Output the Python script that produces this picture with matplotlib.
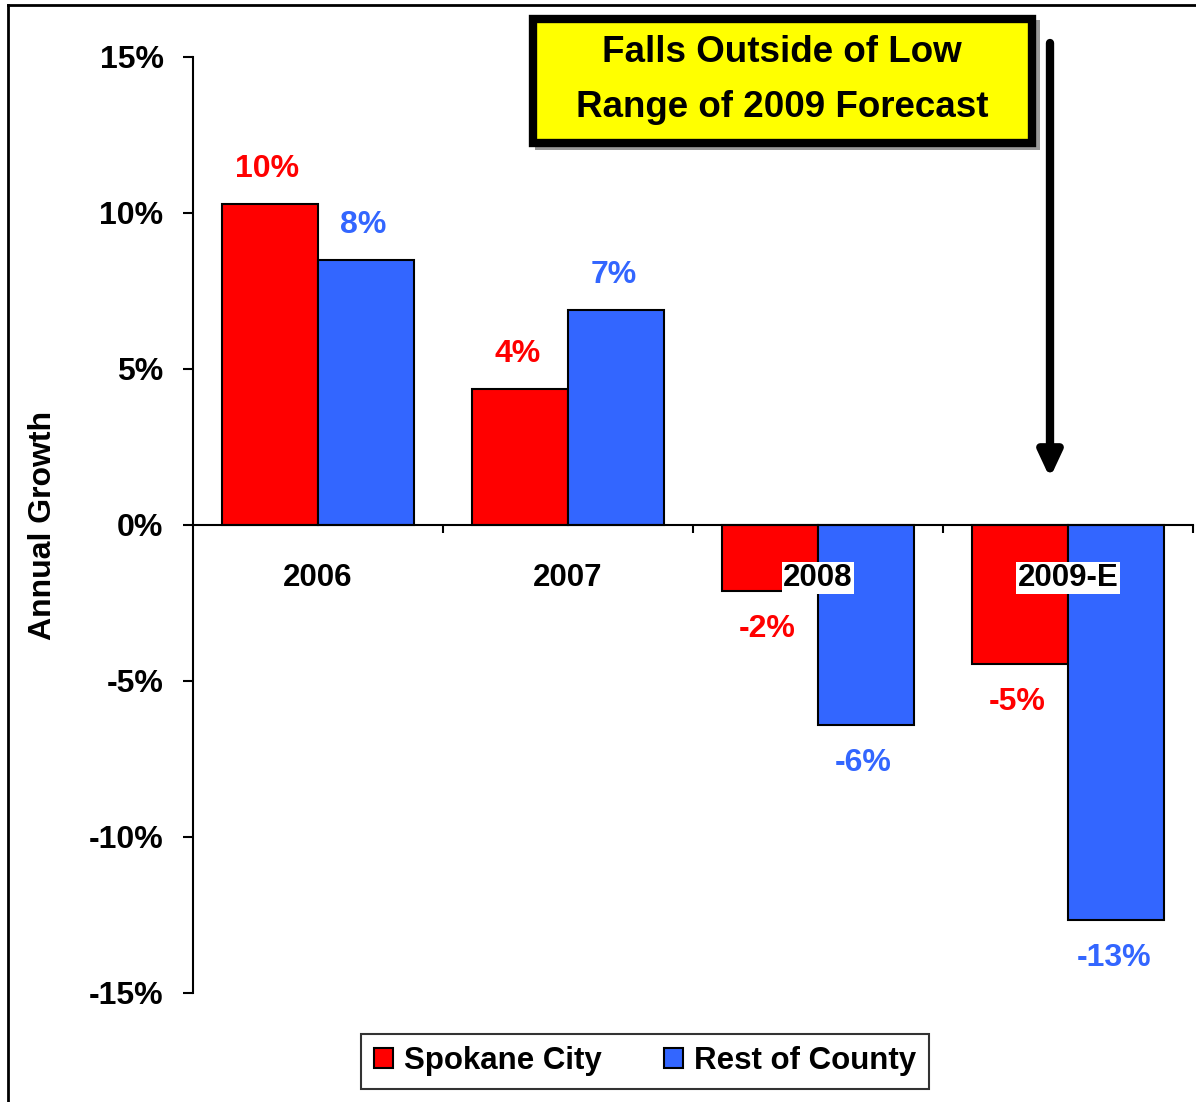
import matplotlib
matplotlib.use("Agg")
import matplotlib.pyplot as plt
from matplotlib.lines import Line2D
from matplotlib.patches import Patch, Rectangle
import numpy as np

plt.rcParams['font.family'] = ['Liberation Sans', 'DejaVu Sans']
plt.rcParams['font.weight'] = 'bold'

categories = ["2006", "2007", "2008", "2009-E"]
spokane_city = [10.3, 4.35, -2.1, -4.45]
rest_of_county = [8.5, 6.9, -6.4, -12.65]
spokane_labels = ["10%", "4%", "-2%", "-5%"]
county_labels = ["8%", "7%", "-6%", "-13%"]
yticks = [15, 10, 5, 0, -5, -10, -15]
ytick_labels = ["15%", "10%", "5%", "0%", "-5%", "-10%", "-15%"]

RED = "#FF0000"
BLUE = "#3366FF"

W, H = 1196, 1102
fig = plt.figure(figsize=(W / 100, H / 100), dpi=100)
ax = fig.add_axes([193 / W, 1 - 993 / H, 1000 / W, (993 - 57) / H])

x = np.arange(len(categories))
bw = 0.385
ax.bar(x - bw / 2, spokane_city, bw, color=RED, edgecolor="black", linewidth=1.5, zorder=2)
ax.bar(x + bw / 2, rest_of_county, bw, color=BLUE, edgecolor="black", linewidth=1.5, zorder=2)

off = 1.12
for i in range(len(categories)):
    v = spokane_city[i]
    ax.text(x[i] - bw / 2 - 0.01, v + off if v >= 0 else v - off - 0.1, spokane_labels[i],
            color=RED, ha="center", va="center", fontsize=23, fontweight="bold")
    v = rest_of_county[i]
    ax.text(x[i] + bw / 2 - 0.01, v + off if v >= 0 else v - off - 0.1, county_labels[i],
            color=BLUE, ha="center", va="center", fontsize=23, fontweight="bold")

ax.set_xlim(-0.5, 3.5)
ax.set_ylim(-15, 15)
ax.set_yticks(yticks)
ax.set_yticklabels(ytick_labels, fontsize=23, fontweight="bold")
ax.tick_params(axis="y", length=7.2, width=1.5, pad=14)
ax.set_xticks([0.5, 1.5, 2.5, 3.5])
ax.set_xticklabels([])
ax.tick_params(axis="x", length=6, width=1.5, direction="out")
for side in ["top", "right"]:
    ax.spines[side].set_visible(False)
ax.spines["bottom"].set_position(("data", 0))
ax.spines["bottom"].set_linewidth(1.5)
ax.spines["left"].set_linewidth(1.5)
ax.spines["bottom"].set_zorder(3)

for i, c in enumerate(categories):
    ax.text(x[i], -1.7, c, ha="center", va="center", fontsize=22.5, fontweight="bold",
            bbox=dict(facecolor="white", edgecolor="none", pad=1), zorder=4)

fig.text(43 / W, 1 - 525 / H, "Annual Growth", rotation=90, ha="center", va="center",
         fontsize=23, fontweight="bold")

# Callout box
fig.patches.append(Rectangle((535 / W, 1 - 150 / H), 505 / W, 130 / H, transform=fig.transFigure,
                             facecolor="#999999", edgecolor="none", zorder=1))
fig.patches.append(Rectangle((533 / W, 1 - 143 / H), 499 / W, 124 / H, transform=fig.transFigure,
                             facecolor="#FFFF00", edgecolor="black", linewidth=6, zorder=2))
fig.text(782 / W, 1 - 80 / H, "Falls Outside of Low\nRange of 2009 Forecast", ha="center", va="center",
         fontsize=26.5, fontweight="bold", linespacing=1.72, zorder=3)

# Arrow
ax.annotate("", xy=(1050 / W, 1 - 478 / H), xytext=(1050 / W, 1 - 43 / H),
            xycoords="figure fraction", textcoords="figure fraction",
            arrowprops=dict(arrowstyle="-|>,head_width=0.7,head_length=1.5", color="black", lw=6,
                            shrinkA=0, shrinkB=0))

# Figure border lines
fig.add_artist(Line2D([8 / W, 8 / W], [0, 1 - 5 / H], color="black", lw=2, transform=fig.transFigure))
fig.add_artist(Line2D([8 / W, 1], [1 - 5 / H, 1 - 5 / H], color="black", lw=2, transform=fig.transFigure))

handles = [Patch(facecolor=RED, edgecolor="black", linewidth=1.5, label="Spokane City"),
           Patch(facecolor=BLUE, edgecolor="black", linewidth=1.5, label="Rest of County")]
leg = fig.legend(handles=handles, loc="center", bbox_to_anchor=(645 / W, 1 - 1061 / H), ncol=2,
                 frameon=True, fancybox=False, edgecolor="black",
                 handlelength=0.62, handleheight=0.62, handletextpad=0.35, columnspacing=2.0,
                 borderpad=0.4, prop={"weight": "bold", "size": 22.5})
leg.get_frame().set_linewidth(1.5)

fig.savefig("out.png", dpi=100)
